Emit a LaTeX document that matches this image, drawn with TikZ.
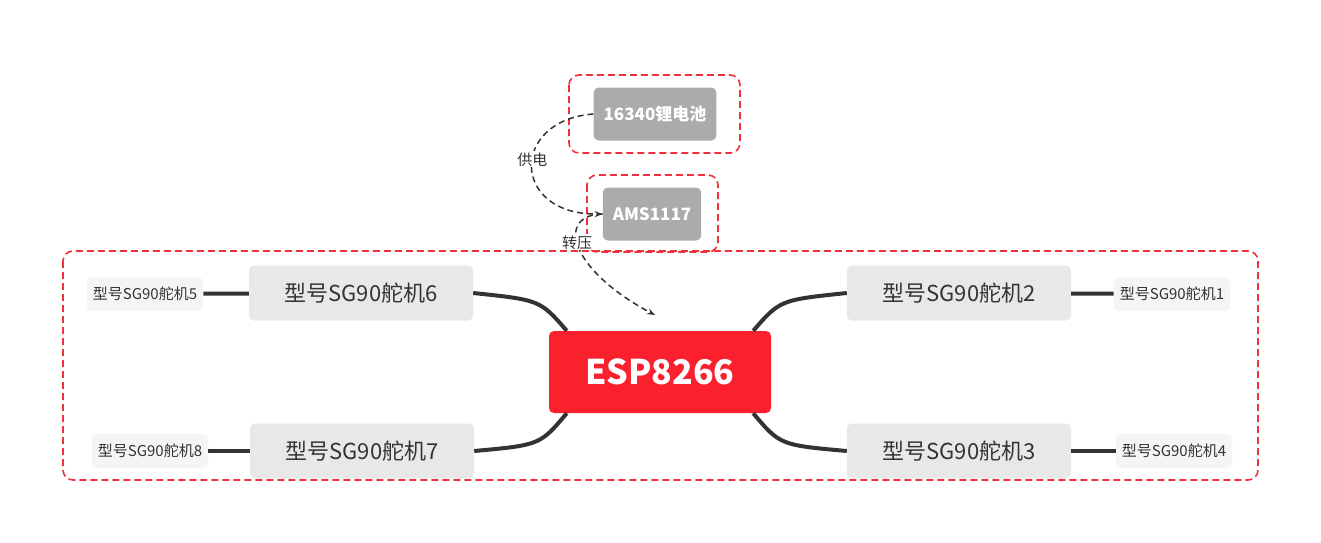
\documentclass[tikz,border=0pt]{standalone}
\usepackage{fontspec}
\setmainfont{Noto Sans CJK SC}
\usetikzlibrary{positioning, arrows.meta}
\definecolor{espred}{HTML}{FA202E}
\definecolor{boxred}{HTML}{F0303C}
\definecolor{subgray}{HTML}{E8E8E8}
\definecolor{leafgray}{HTML}{F5F5F5}
\definecolor{powgray}{HTML}{ABABAB}
\definecolor{linedark}{HTML}{333333}
\tikzset{
    x=1pt, y=-1pt,
    subnode/.style={fill=subgray, rounded corners=5pt, minimum width=224pt, minimum height=55pt, inner sep=0pt, font=\fontsize{22}{24}\selectfont, text=linedark},
    leafnode/.style={fill=leafgray, rounded corners=5pt, minimum height=34pt, inner sep=6pt, font=\fontsize{15}{17}\selectfont, text=linedark},
    pownode/.style={fill=powgray, rounded corners=5pt, minimum height=53pt, inner sep=10pt, text=white, font=\fontsize{17}{19}\selectfont\bfseries},
    redframe/.style={draw=boxred, dashed, line width=1.6pt, dash pattern=on 7pt off 4pt, rounded corners=10pt},
    branch/.style={draw=linedark, line width=4pt},
    flow/.style={draw=linedark, line width=1.5pt, dash pattern=on 6pt off 4pt, -{Stealth[length=8pt]}},
    flowlabel/.style={fill=white, inner sep=1pt, font=\fontsize{15}{17}\selectfont, text=linedark}
}
\begin{document}
\begin{tikzpicture}
\useasboundingbox[fill=white] (0,0) rectangle (1321,542);
% frames
\draw[redframe] (63,251) rectangle (1258,480);
\draw[redframe] (569,75) rectangle (740,153);
\draw[redframe] (587,175) rectangle (718,252);
% center
\node[fill=espred, rounded corners=5pt, minimum width=222pt, minimum height=82pt, text=white, font=\fontsize{34}{36}\selectfont\bfseries] (esp) at (660,372) {ESP8266};
% servos
\node[subnode] (s6) at (361,293) {型号SG90舵机6};
\node[subnode] (s7) at (362,451) {型号SG90舵机7};
\node[subnode] (s2) at (959,293) {型号SG90舵机2};
\node[subnode] (s3) at (959,451) {型号SG90舵机3};
\node[leafnode] (s5) at (145,294) {型号SG90舵机5};
\node[leafnode] (s8) at (150,451) {型号SG90舵机8};
\node[leafnode] (s1) at (1172,294) {型号SG90舵机1};
\node[leafnode] (s4) at (1174,451) {型号SG90舵机4};
% power
\node[pownode] (bat) at (655,114) {16340锂电池};
\node[pownode] (ams) at (652,214) {AMS1117};
% branches
\draw[branch] (esp.north west) ++(18,0) .. controls (540,300) .. (s6.east);
\draw[branch] (esp.south west) ++(18,0) .. controls (540,445) .. (s7.east);
\draw[branch] (esp.north east) ++(-18,0) .. controls (780,300) .. (s2.west);
\draw[branch] (esp.south east) ++(-18,0) .. controls (780,445) .. (s3.west);
\draw[branch] (s5) -- (s6);
\draw[branch] (s8) -- (s7);
\draw[branch] (s2) -- (s1);
\draw[branch] (s3) -- (s4);
% flows
\draw[flow] (bat.west) .. controls (510,120) and (510,215) .. (ams.west) node[pos=0.45, flowlabel] {供电};
\coordinate (espin) at (655,315);
\draw[flow] (ams.west) .. controls (555,215) and (570,270) .. (espin) node[pos=0.45, flowlabel] {转压};
\end{tikzpicture}
\end{document}
